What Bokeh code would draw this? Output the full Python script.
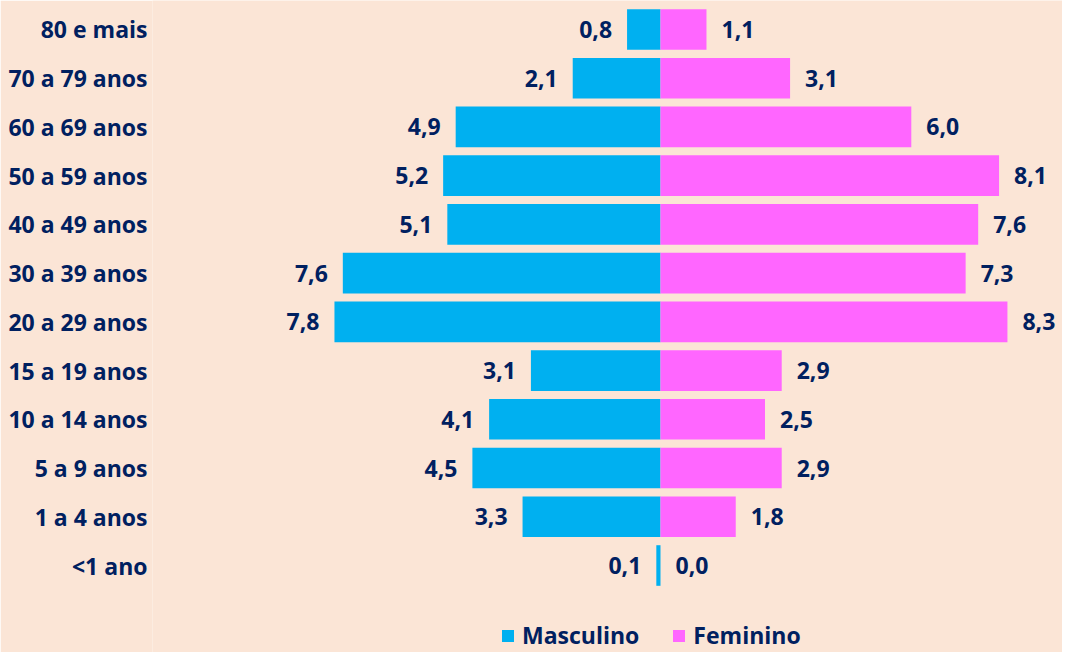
from bokeh.plotting import figure
from bokeh.models import ColumnDataSource, FixedTicker, Range1d, Legend, LegendItem
from bokeh.core.properties import value
from bokeh.embed import file_html
from bokeh.resources import INLINE

categories = ["<1 ano", "1 a 4 anos", "5 a 9 anos", "10 a 14 anos", "15 a 19 anos",
              "20 a 29 anos", "30 a 39 anos", "40 a 49 anos", "50 a 59 anos",
              "60 a 69 anos", "70 a 79 anos", "80 e mais"]
masculino = [0.1, 3.3, 4.5, 4.1, 3.1, 7.8, 7.6, 5.1, 5.2, 4.9, 2.1, 0.8]
feminino = [0.0, 1.8, 2.9, 2.5, 2.9, 8.3, 7.3, 7.6, 8.1, 6.0, 3.1, 1.1]

BG = "#FBE5D6"
BLUE = "#00B0F0"
PINK = "#FF66FF"
NAVY = "#002060"
FONT = "Open Sans"
FSIZE = "23px"

idx = list(range(len(categories)))
fmt = lambda v: f"{v:.1f}".replace(".", ",")

src = ColumnDataSource(dict(
    y=idx,
    cat=categories,
    m_left=[-v for v in masculino],
    f_right=feminino,
    m_lab=[fmt(v) for v in masculino],
    f_lab=[fmt(v) for v in feminino],
))

# frame starts at x=152; zero line at x=660; 41.8 px per unit
LEFT = 152
FRAME_W = 1062 - LEFT
ZERO = 660 - LEFT
SCALE = 41.8
p = figure(width=1062, height=652, output_backend="svg", toolbar_location=None,
           x_range=Range1d(-ZERO / SCALE, (FRAME_W - ZERO) / SCALE),
           y_range=Range1d(-1.785, 11.594),
           x_axis_location=None, min_border_left=LEFT, min_border_right=0,
           min_border_top=0, min_border_bottom=0)
p.background_fill_color = BG
p.border_fill_color = BG
p.outline_line_color = None
p.xgrid.visible = False
p.ygrid.visible = False

yax = p.yaxis[0]
yax.ticker = FixedTicker(ticks=idx)
yax.major_label_overrides = {i: c for i, c in zip(idx, categories)}
yax.axis_line_color = None
yax.major_tick_line_color = None
yax.minor_tick_line_color = None
yax.major_tick_out = 0
yax.major_tick_in = 0
yax.major_label_standoff = 5
yax.major_label_text_font = FONT
yax.major_label_text_font_style = "bold"
yax.major_label_text_font_size = FSIZE
yax.major_label_text_color = NAVY

rm = p.hbar(y="y", left="m_left", right=0, height=0.833, source=src,
            fill_color=BLUE, line_color=None)
rf = p.hbar(y="y", left=0, right="f_right", height=0.833, source=src,
            fill_color=PINK, line_color=None)

p.text(x="m_left", y="y", text="m_lab", source=src, x_offset=-15,
       text_align="right", text_baseline="middle", text_font=value(FONT),
       text_font_style="bold", text_font_size=FSIZE, text_color=NAVY)
p.text(x="f_right", y="y", text="f_lab", source=src, x_offset=15,
       text_align="left", text_baseline="middle", text_font=value(FONT),
       text_font_style="bold", text_font_size=FSIZE, text_color=NAVY)

legend = Legend(items=[LegendItem(label="Masculino", renderers=[rm]),
                       LegendItem(label="Feminino", renderers=[rf])],
                orientation="horizontal", location=(348, 1))
legend.margin = 0
legend.padding = 0
legend.spacing = 32
legend.glyph_width = 15
legend.glyph_height = 15
legend.label_standoff = 7
legend.border_line_color = None
legend.background_fill_alpha = 0
legend.label_text_font = FONT
legend.label_text_font_style = "bold"
legend.label_text_font_size = FSIZE
legend.label_text_color = NAVY
p.add_layout(legend)

open("out.html", "w").write(file_html(p, INLINE))
